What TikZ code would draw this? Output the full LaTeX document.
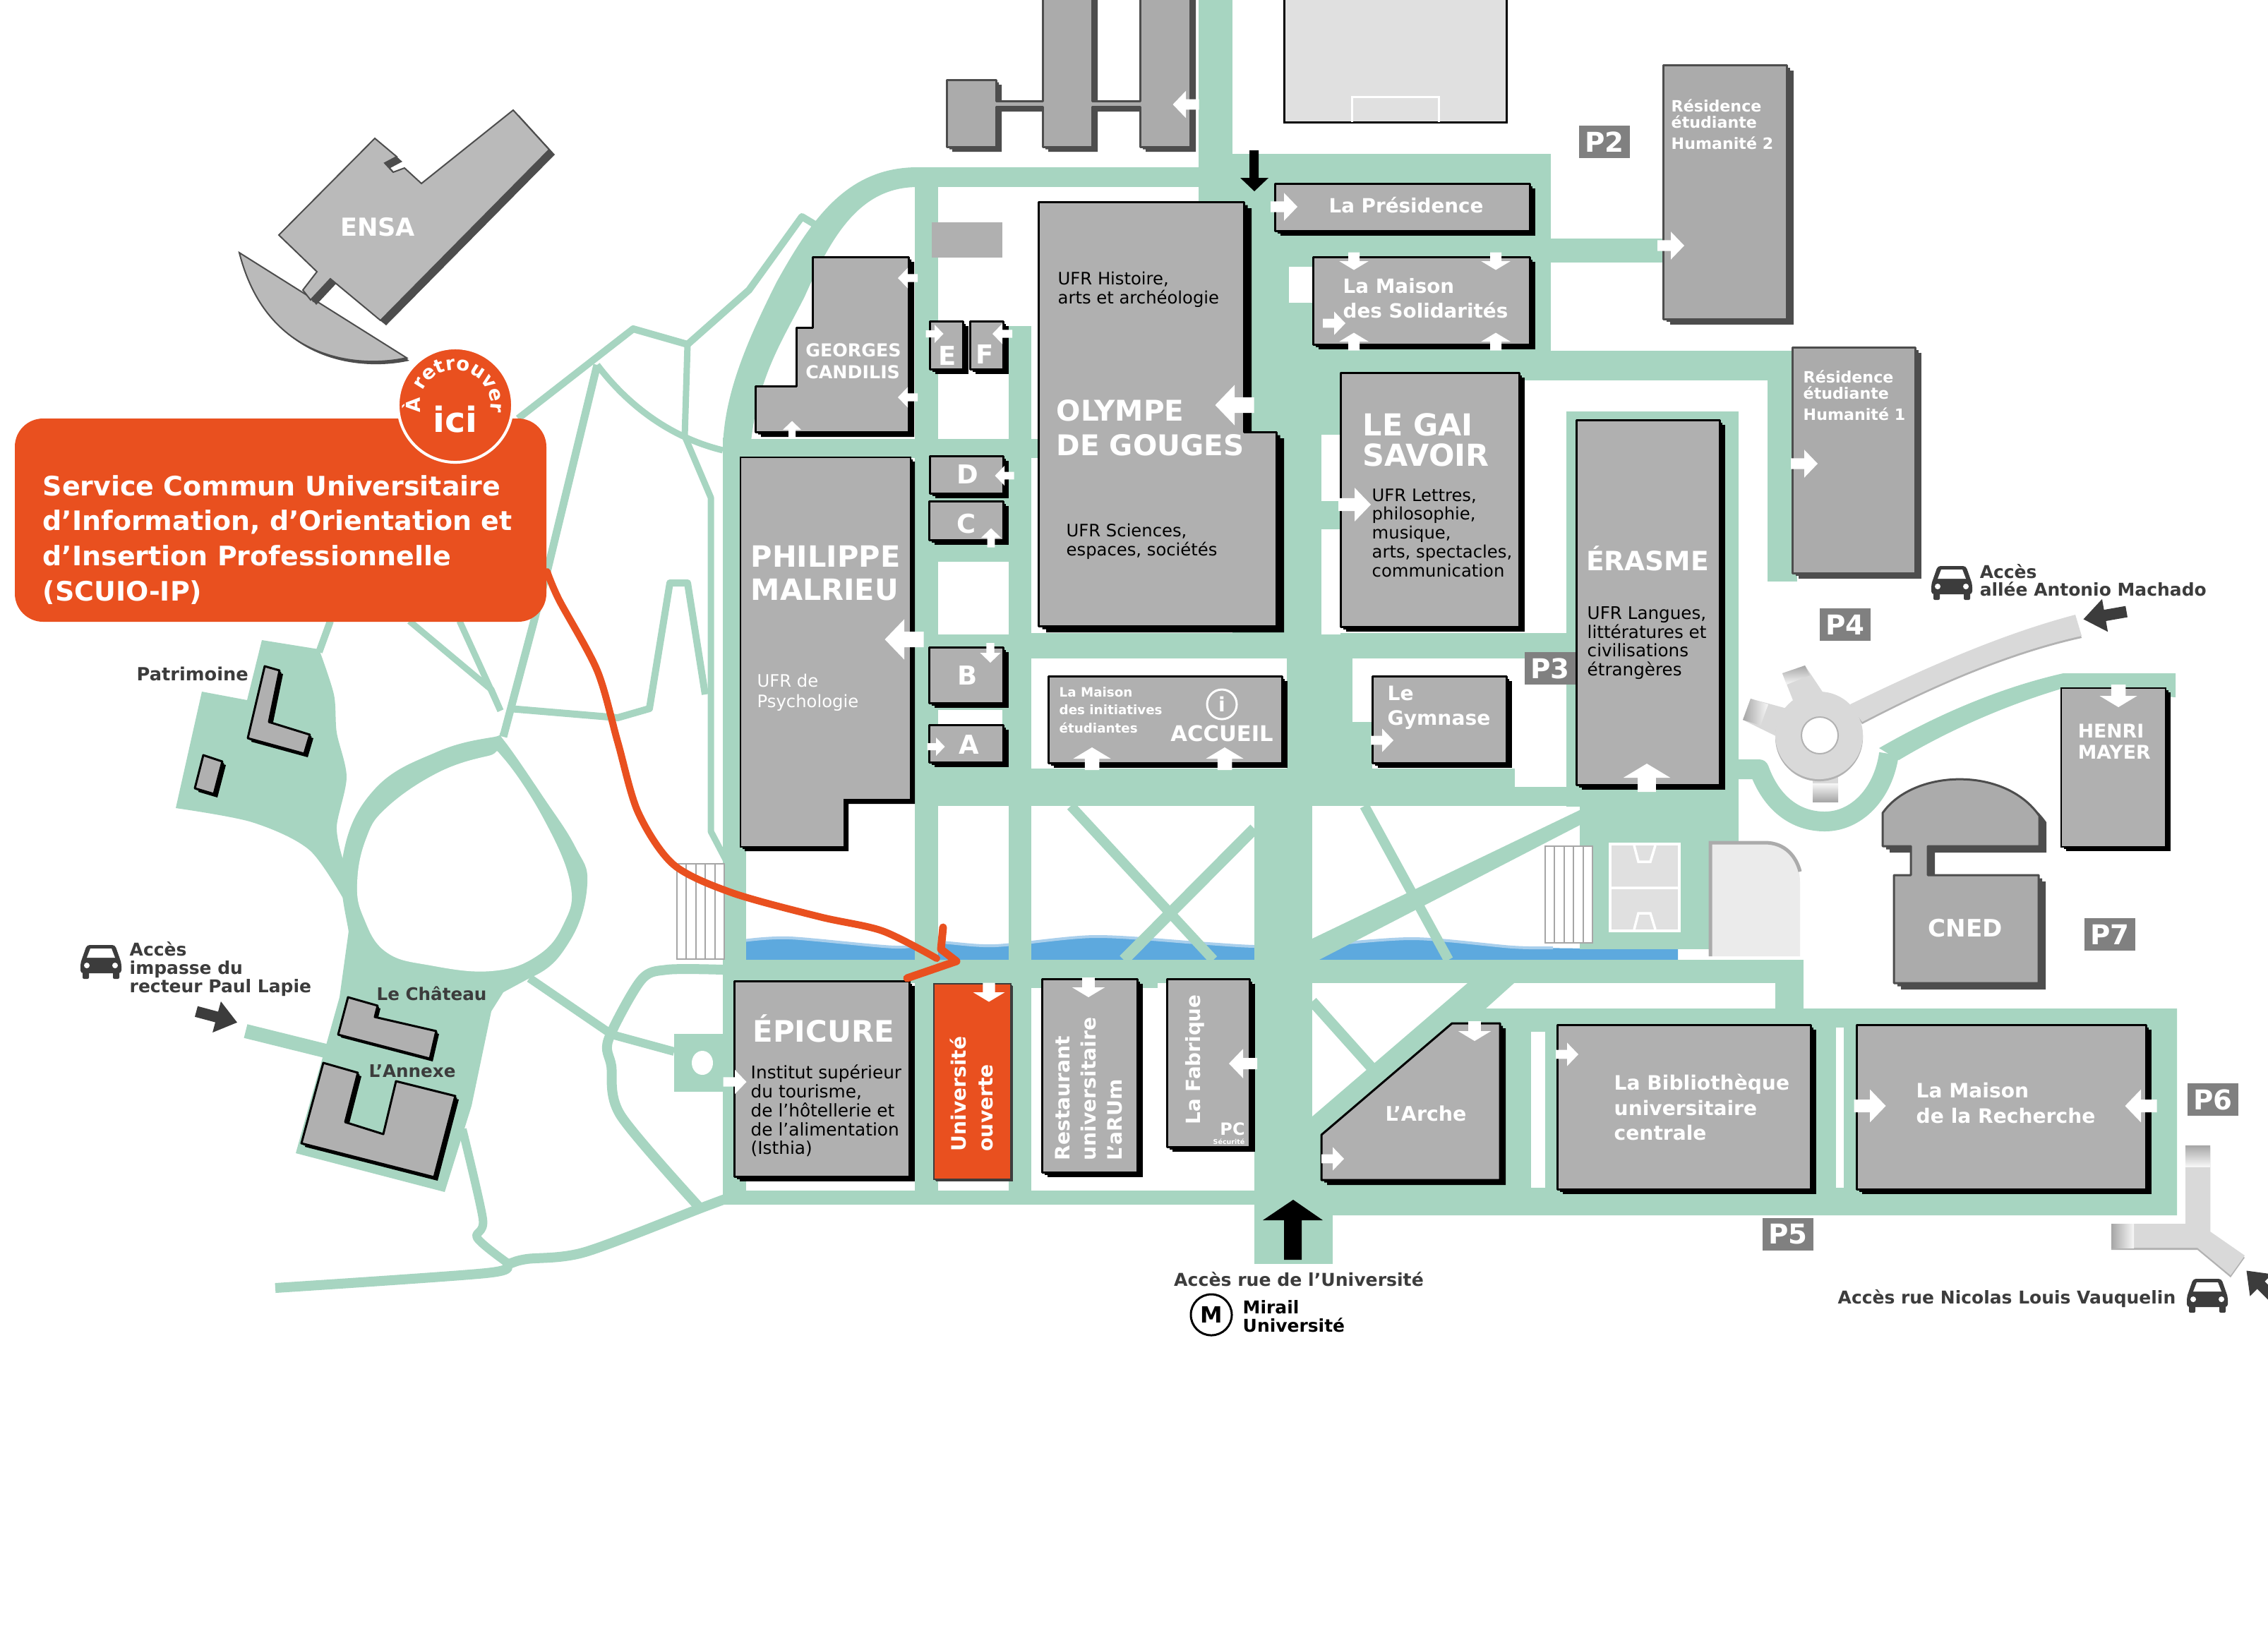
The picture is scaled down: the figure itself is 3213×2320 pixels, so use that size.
\documentclass[tikz,border=0pt]{standalone}
\usepackage{fontspec}
\setmainfont{DejaVu Sans}
\usetikzlibrary{calc,decorations.text}
\definecolor{roadgreen}{HTML}{A7D5C1}
\definecolor{orangered}{HTML}{E9501F}
\definecolor{canalblue}{HTML}{5DA9DE}
\definecolor{canallight}{HTML}{A9CFEC}
\definecolor{inkdark}{HTML}{3C3C3C}
\definecolor{edgedark}{HTML}{4D4D4D}
\definecolor{bldgray}{HTML}{B0B0B0}
\definecolor{resgray}{HTML}{ABABAB}
\definecolor{tarmac}{HTML}{D9D9D9}
\newcommand{\mapsize}[2]{\fontsize{#1}{#2}\selectfont}
% body and shadow of a building
\newcommand{\house}[3][8,7]{%
	\fill[#2 shadow,shift={($.5*(#1)$)}] #3;
	\fill[#2 shadow,shift={(#1)}] #3;
	\filldraw[#2] #3;}
\newcommand{\entrance}{(-.5,-.2) -- (0,-.2) -- (0,-.52) -- (.5,0) -- (0,.52) -- (0,.2) -- (-.5,.2) -- cycle}
\tikzset{%
	bldg/.style        = {fill=bldgray, draw=black, line width=0.03cm, line join=round},
	bldg shadow/.style = {fill=black},
	flat/.style        = {fill=bldgray},
	flat shadow/.style = {fill=black},
	resid/.style       = {fill=resgray, draw=edgedark, line width=0.03cm, line join=round},
	resid shadow/.style= {fill=edgedark},
	unio/.style        = {fill=orangered, draw=inkdark, line width=0.02cm},
	unio shadow/.style = {fill=inkdark},
	ensa/.style        = {fill=black!27, draw=edgedark, line width=0.02cm},
	ensa shadow/.style = {fill=edgedark},
	area/.style   = {fill=roadgreen},
	road/.style   = {draw=roadgreen, line width=#1*0.01cm, line join=round},
	road/.default = 10,
	tarmacarea/.style = {fill=tarmac},
	wlab/.style   = {text=white, align=left, inner sep=0pt},
	klab/.style   = {text=black, align=left, inner sep=0pt},
	dlab/.style   = {text=inkdark, align=left, inner sep=0pt},
	tag/.style    = {fill=black!50, text=white, inner sep=0pt, minimum width=0.72cm, minimum height=0.46cm, font=\mapsize{11}{12}\bfseries},
	car/.pic = {
		\fill[inkdark,rounded corners=0.04cm] (-20,-24) -- (20,-24) -- (27,-4) -- (29,2) -- (29,16) -- (-29,16) -- (-29,2) -- (-27,-4) -- cycle;
		\fill[white] (-15,-19) -- (15,-19) -- (20,-6) -- (-20,-6) -- cycle;
		\fill[white] (-20,5) circle (0.04cm) (20,5) circle (0.04cm);
		\fill[inkdark,rounded corners=0.02cm] (-26,12) rectangle (-17,24) (17,12) rectangle (26,24);
	},
}
\begin{document}
\begin{tikzpicture}[x=0.01cm,y=-0.01cm]
	\useasboundingbox (0,0) rectangle (3213,2320);
	\fill[white] (0,0) rectangle (3213,2320);
	% canal
	\fill[canalblue] plot[smooth] coordinates {(1053,1333)(1119,1329)(1269,1342)(1326,1335)(1409,1340)(1550,1327)(1696,1336)(1777,1341)(1859,1340)(2002,1330)(2143,1342)(2377,1345)} -- (2377,1360) -- (1053,1360) -- cycle;
	\draw[canallight,line width=0.04cm] plot[smooth] coordinates {(1053,1333)(1119,1329)(1269,1342)(1326,1335)(1409,1340)(1550,1327)(1696,1336)(1777,1341)(1859,1340)(2002,1330)(2143,1342)(2200,1343)};
	% roads of the campus
	\foreach \xa/\ya/\xb/\yb in {1698/0/1746/286,1295/237/1746/265,1746/218/2197/497,1746/286/1872/899,1872/539/1899/899,
		2197/338/2355/372,1746/497/2545/539,2504/497/2546/824,2219/583/2463/1143,1024/622/1470/649,
		1024/620/1049/1707,1024/1200/1057/1707,1296/237/1329/1707,1429/462/1461/1707,1296/624/1461/796,
		1296/899/1461/1142,1461/897/2219/933,1823/933/1916/1089,1916/1023/1944/1089,1296/1089/2146/1142,
		2146/1115/2240/1142,2238/1100/2463/1345,1777/1142/1859/1791,1024/1360/2555/1393,1461/1393/1640/1400,
		2515/1393/2555/1430,1024/1687/1777/1707,1777/1707/1888/1791,955/1465/1024/1547}
		\fill[area] (\xa,\ya) rectangle (\xb,\yb);
	\fill[area] (2079,1393) -- (2145,1393) -- (2105,1429) -- (3084,1429) -- (3084,1722) -- (1859,1722) -- (1859,1582) -- cycle;
	\fill[area] (2248,1143) -- (2248,1164) -- (1859,1365) -- (1859,1330) -- cycle;
	\draw[road=14] (1517,1142) -- (1719,1360);
	\draw[road=16] (1777,1174) -- (1592,1360);
	\draw[road=14] (1933,1142) -- (2052,1360);
	\draw[road=15] (1859,1419) -- (1945,1515);
	% curve in the top left
	\fill[area] (1300,237) .. controls (1200,237) and (1150,310) .. (1100,400) .. controls (1060,480) and (1024,560) .. (1024,640) -- (1064,625) .. controls (1075,530) and (1110,480) .. (1140,420) .. controls (1180,330) and (1220,265) .. (1300,265) -- cycle;
	% ring and access of the roundabout
	\draw[road=28] (2463,1090) -- (2492,1090) .. controls (2510,1140) and (2545,1164) .. (2585,1164) .. controls (2630,1164) and (2668,1125) .. (2676,1068);
	\fill[area] (2662,1060) .. controls (2740,1015) and (2830,975) .. (2923,954) -- (3082,954) -- (3082,988) -- (2920,976) .. controls (2840,1000) and (2760,1035) .. (2690,1077) -- cycle;
	% paths in the park
	\draw[road=10] (734,593) -- (897,466) -- (974,488) -- (1061,411) -- (1136,307) -- (1161,322);
	\draw[road=9] (974,488) -- (970,618) -- (1007,705) -- (1007,1178) -- (1028,1218);
	\draw[road=11] (846,517) -- (775,810) -- (713,1044);
	\draw[road=9] (846,517) .. controls (890,575) and (950,620) .. (1024,638);
	\draw[road=9] (580,880) -- (696,977) -- (709,1007);
	\draw[road=9] (651,880) -- (709,1007);
	\draw[road=10] (721,1004) -- (875,1017) -- (920,1004) -- (949,826) -- (974,826) -- (999,984);
	\draw[road=10] (468,880) -- (452,924);
	\draw[road=12] (750,1386) -- (867,1466) -- (955,1490);
	\draw[road=20] (348,1461) -- (465,1490);
	\draw[road=14] plot[smooth] coordinates {(390,1825)(688,1804)(721,1791)(746,1784)(829,1774)(995,1711)(1030,1698)};
	\draw[road=12] plot[smooth] coordinates {(655,1600)(684,1727)(676,1754)(721,1791)};
	\draw[road=14] plot[smooth] coordinates {(1024,1374)(945,1374)(908,1389)(862,1473)(866,1510)(879,1580)(991,1711)};
	\fill[area] (371,907) -- (452,920) -- plot[smooth] coordinates {(452,920)(473,984)(477,1038)(491,1101)(477,1171)(485,1215)} -- (500,1250) -- (493,1285) -- plot[smooth] coordinates {(493,1285)(439,1205)(357,1165)(249,1145)} -- (286,980) -- (350,992) -- cycle;
	\fill[area] plot[smooth cycle,tension=.7] coordinates {(486,1212)(531,1118)(620,1065)(701,1044)(713,1048)(770,1130)(815,1200)(832,1252)(808,1332)(750,1386)(650,1400)(520,1400)(494,1320)};
	\fill[area] (493,1285) -- (494,1319) -- (481,1413) -- (419,1634) -- (630,1689) -- (668,1567) -- (696,1433) -- (713,1406) -- (750,1386) -- (700,1300) -- (540,1250) -- cycle;
	\fill[white] plot[smooth cycle,tension=.7] coordinates {(506,1252)(518,1190)(547,1145)(620,1095)(692,1071)(713,1074)(770,1160)(808,1252)(798,1310)(760,1355)(696,1376)(610,1368)(547,1349)(515,1300)};
	% white gaps
	\foreach \xa/\ya/\xb/\yb in {1826/378/1859/429,1872/616/1899/710,1872/750/1899/899,2169/1462/2189/1683,2601/1456/2612/1683,1329/1006/1420/1027}
		\fill[white] (\xa,\ya) rectangle (\xb,\yb);
	\fill[white] (995,1506) ellipse (15 and 17);
	% stairs
	\foreach \xa/\ya/\xb/\yb in {959/1224/1026/1359,2189/1199/2256/1336}{
		\filldraw[fill=white,draw=black!35,line width=0.025cm] (\xa,\ya) rectangle (\xb,\yb);
		\foreach \k in {1,...,4}
			\draw[black!35,line width=0.02cm] ({\xa+\k*13.4},\ya) -- ({\xa+\k*13.4},\yb);
	}
	% sports ground
	\filldraw[fill=black!12,draw=white,line width=0.035cm] (2281,1196) rectangle (2379,1319);
	\draw[white,line width=0.035cm] (2281,1258) -- (2379,1258) (2315,1198) -- (2321,1221) -- (2338,1221) -- (2345,1198) (2315,1317) -- (2321,1294) -- (2338,1294) -- (2345,1317);
	\fill[black!8] (2421,1194) -- (2500,1194) .. controls (2530,1194) and (2550,1220) .. (2550,1250) -- (2550,1355) -- (2425,1355) -- cycle;
	\draw[black!33,line width=0.05cm] (2423,1355) -- (2423,1194) -- (2500,1194) .. controls (2530,1194) and (2545,1215) .. (2550,1235);
	\filldraw[fill=black!12,draw=black,line width=0.03cm] (1819,-10) rectangle (2134,173);
	\draw[white,line width=0.03cm] (1915,173) -- (1915,137) -- (2038,137) -- (2038,173);
	% access roads
	\foreach \s/\c in {3/black!30,0/tarmac}
		\fill[\c,shift={(0,\s)}] (2621,998) .. controls (2720,950) and (2830,900) .. (2940,871) -- (2949,901) .. controls (2840,925) and (2730,975) .. (2638,1023) -- cycle;
	\fill[tarmacarea] (2525,954) -- (2557,943) -- (2585,985) -- (2545,1005) -- cycle;
	\fill[tarmacarea] (2469,1020) -- (2480,990) -- (2535,1005) -- (2520,1045) -- cycle;
	\fill[tarmacarea] (2568,1090) rectangle (2604,1136);
	\shade[top color=black!35,bottom color=black!3] (2525,954) -- (2557,943) -- (2564,957) -- (2531,970) -- cycle;
	\shade[left color=black!35,right color=black!3] (2469,1020) -- (2480,990) -- (2505,998) -- (2494,1028) -- cycle;
	\shade[bottom color=black!35,top color=black!3] (2568,1110) rectangle (2604,1136);
	\fill[black!30] (2577,1045) circle (0.62cm);
	\fill[tarmac] (2577,1042) circle (0.62cm);
	\filldraw[fill=white,draw=black!30,line width=0.02cm] (2578,1042) circle (0.26cm);
	\foreach \s/\c in {3/black!30,0/tarmac}
		\fill[\c,shift={(0,\s)}] (3096,1623) -- (3131,1623) -- (3131,1745) -- (3180,1779) -- (3160,1807) -- (3113,1768) -- (2991,1768) -- (2991,1734) -- (3096,1734) -- cycle;
	\shade[top color=black!35,bottom color=black!3] (3096,1623) rectangle (3131,1653);
	\shade[left color=black!35,right color=black!3] (2991,1734) rectangle (3023,1768);
	% buildings
	\house[4,4]{ensa}{(339,358) -- (576,507) .. controls (520,520) and (380,520) .. (339,358) -- cycle}
	\house{ensa}{(531,196) -- (562,222) -- (545,231) -- (557,244) -- (573,238) -- (597,260) -- (727,156) -- (778,212) -- (539,454) -- (468,395) -- (440,425) -- (429,411) -- (449,385) -- (395,333) -- cycle}
	\house{resid}{(1341,113) -- (1411,113) -- (1411,143) -- (1477,143) -- (1477,-10) -- (1547,-10) -- (1547,143) -- (1615,143) -- (1615,-10) -- (1686,-10) -- (1686,208) -- (1615,208) -- (1615,151) -- (1547,151) -- (1547,208) -- (1477,208) -- (1477,151) -- (1411,151) -- (1411,208) -- (1341,208) -- cycle}
	\fill[bldgray] (1320,315) rectangle (1420,365);
	\house{bldg}{(1151,364) -- (1287,364) -- (1287,612) -- (1070,612) -- (1070,547) -- (1128,547) -- (1128,464) -- (1151,464) -- cycle}
	\foreach \xa/\ya/\xb/\yb in {1317/455/1364/523,1374/455/1421/523,1317/646/1421/699,1316/710/1421/765,1316/917/1421/996,1316/1027/1421/1080,
		1485/958/1816/1081,1944/958/2134/1081,1806/260/2167/327,1860/364/2167/488,1899/528/2152/888,2233/595/2436/1112}
		{\house{bldg}{(\xa,\ya) rectangle (\xb,\yb)}}
	\house[11,9]{bldg}{(1471,286) -- (1762,286) -- (1762,612) -- (1808,612) -- (1808,887) -- (1471,887) -- cycle}
	\house[6,6]{flat}{(1049,648) -- (1290,648) -- (1290,1133) -- (1196,1133) -- (1196,1200) -- (1049,1200) -- cycle}
	\house{bldg}{(1040,1390) rectangle (1288,1667)}
	\house[3,3]{unio}{(1323,1394) rectangle (1432,1671)}
	\house{bldg}{(1476,1387) rectangle (1611,1661)}
	\house{bldg}{(1653,1387) rectangle (1770,1625)}
	\house{bldg}{(2057,1450) -- (2125,1450) -- (2125,1672) -- (1872,1672) -- (1872,1608) -- cycle}
	\house{bldg}{(2206,1452) rectangle (2565,1685)}
	\house{bldg}{(2630,1452) rectangle (3040,1685)}
	\house[10,9]{resid}{(2667,1152) .. controls (2710,1090) and (2840,1085) .. (2889,1156) -- (2889,1199) -- (2731,1199) -- (2731,1240) -- (2888,1240) -- (2888,1393) -- (2683,1393) -- (2683,1240) -- (2707,1240) -- (2707,1199) -- (2667,1199) -- cycle}
	\house[7,6]{flat}{(2920,975) rectangle (3068,1200)}
	\house[10,8]{resid}{(2356,92) rectangle (2531,452)}
	\house[9,8]{resid}{(2539,492) rectangle (2713,812)}
	\house[5,5]{bldg}{(375,944) -- (396,950) -- (381,1023) -- (439,1041) -- (431,1068) -- (351,1046) -- cycle}
	\house[5,5]{bldg}{(288,1070) -- (315,1079) -- (303,1125) -- (276,1117) -- cycle}
	\house[4,4]{bldg}{(493,1413) -- (535,1425) -- (531,1441) -- (618,1461) -- (609,1500) -- (479,1466) -- cycle}
	\house[5,5]{bldg}{(458,1506) -- (507,1520) -- (489,1590) -- (543,1607) -- (561,1532) -- (645,1553) -- (615,1668) -- (427,1620) -- cycle}
	% entrances: x/y/angle/length
	\foreach \ax/\ay/\aa/\al in {1680/148/180/37,1819/293/0/38,1890/458/0/32,1749/574/180/55,1919/715/0/46,1286/394/180/28,1286/563/180/28,
		1122/609/90/25,1324/473/0/25,1420/473/180/28,1423/674/180/27,1404/762/90/27,1281/906/180/55,1403/925/270/28,1326/1058/0/25,
		1958/1049/0/32,2367/348/0/38,2556/657/0/38,1041/1533/0/33,1761/1507/180/40,1888/1642/0/32,2220/1494/0/32,2649/1567/0/45,3033/1567/180/45}
		\fill[white,shift={(\ax,\ay)},rotate=\aa,scale=\al] \entrance;
	% wider ones
	\foreach \ax/\ay/\aa/\al in {1918/370/270/25,2119/370/270/25,1918/484/90/25,2119/484/90/25,1547/1075/90/32,1735/1075/90/32,
		2333/1102/90/40,3001/986/270/32,1401/1406/270/27,1542/1399/270/28,2089/1461/270/28}
		\fill[white,shift={(\ax,\ay)},rotate=\aa,xscale=\al,yscale=1.6*\al] \entrance;
	\foreach \ax/\ay/\aa/\al in {2982/872/190/62,307/1441/-15/60,3203/1821/135/58}
		\fill[inkdark,shift={(\ax,\ay)},rotate=\aa,scale=\al] (-.5,-.13) -- (0,-.13) -- (0,-.38) -- (.5,0) -- (0,.38) -- (0,.13) -- (-.5,.13) -- cycle;
	\fill[black] (1770,213) -- (1783,213) -- (1783,252) -- (1797,252) -- (1777,271) -- (1757,252) -- (1770,252) -- cycle;
	\fill[black] (1819,1785) -- (1844,1785) -- (1844,1729) -- (1874,1729) -- (1832,1700) -- (1789,1729) -- (1819,1729) -- cycle;
	% parking
	\node[tag] (P2) at (2273,201) {P2};
	\node[tag] (P3) at (2196,947) {P3};
	\node[tag] (P4) at (2614,885) {P4};
	\node[tag] (P5) at (2533,1749) {P5};
	\node[tag] (P6) at (3135,1558) {P6};
	\node[tag] (P7) at (2989,1324) {P7};
	% cars
	\pic at (2765,826) {car};
	\pic at (143,1363) {car};
	\pic at (3127,1836) {car};
	% way to the service
	\draw[orangered,line width=0.1cm,line cap=round] plot[smooth] coordinates {(775,810)(792,850)(846,950)(875,1051)(904,1151)(954,1225)(1037,1265)(1161,1299)(1250,1319)(1327,1358)};
	\draw[orangered,line width=0.11cm,line cap=round,line join=round] (1336,1314) -- (1333,1345) -- (1355,1362) -- (1285,1386);
	% service box
	\fill[orangered,rounded corners=0.4cm] (21,593) rectangle (774,881);
	\node[circle,fill=orangered,draw=white,line width=0.04cm,minimum size=1.62cm,inner sep=0pt] (badge) at (645,574) {};
	\path[decorate,decoration={text along path,text align=center,text={|\mapsize{7.8}{9}\bfseries\color{white}|À retrouver}}] plot[samples=70,domain=215:-35,variable=\t] ({645+50*cos(\t)},{574-50*sin(\t)});
	\node[wlab,font=\mapsize{14}{16}\bfseries] (ici) at (645,594) {ici};
	\node[wlab,anchor=west,font=\mapsize{10.8}{14.2}\bfseries] (scuio) at (60,765) {Service Commun Universitaire\\d’Information, d’Orientation et\\d’Insertion Professionnelle\\(SCUIO-IP)};
	% labels
	\node[wlab,font=\mapsize{10}{11}\bfseries] (ENSAlab) at (535,322) {ENSA};
	\node[wlab,font=\mapsize{7.2}{8.8}\bfseries] (candilis) at (1209,512) {GEORGES\\CANDILIS};
	\foreach \nm/\ax/\ay in {E/1342/504,F/1395/502,D/1371/672,C/1369/742,B/1371/957,A/1373/1055}
		\node[wlab,font=\mapsize{10.5}{12}\bfseries] (wing\nm) at (\ax,\ay) {\nm};
	\node[wlab,anchor=west,font=\mapsize{11.5}{14}\bfseries] (olympe) at (1496,606) {OLYMPE\\DE GOUGES};
	\node[klab,anchor=west,font=\mapsize{6.9}{7.7}] (ufrhist) at (1498,410) {UFR Histoire,\\arts et archéologie};
	\node[klab,anchor=west,font=\mapsize{6.9}{7.7}] (ufrsci) at (1510,767) {UFR Sciences,\\espaces, sociétés};
	\node[wlab,font=\mapsize{7.9}{10}\bfseries] (presid) at (1992,291) {La Présidence};
	\node[wlab,anchor=west,font=\mapsize{7.9}{10}\bfseries] (solid) at (1902,423) {La Maison\\des Solidarités};
	\node[wlab,anchor=west,font=\mapsize{12.2}{12.2}\bfseries] (gai) at (1930,623) {LE GAI\\SAVOIR};
	\node[klab,anchor=west,font=\mapsize{6.9}{7.6}] (ufrlet) at (1943,755) {UFR Lettres,\\philosophie,\\musique,\\arts, spectacles,\\communication};
	\node[wlab,anchor=west,font=\mapsize{11.8}{13.4}\bfseries] (malrieu) at (1063,812) {PHILIPPE\\MALRIEU};
	\node[wlab,anchor=west,font=\mapsize{6.9}{8.2}] (ufrpsy) at (1072,981) {UFR de\\Psychologie};
	\node[wlab,font=\mapsize{10.7}{12}\bfseries] (erasme) at (2334,791) {ÉRASME};
	\node[klab,anchor=west,font=\mapsize{7}{7.6}] (ufrlan) at (2248,911) {UFR Langues,\\littératures et\\civilisations\\étrangères};
	\node[wlab,anchor=west,font=\mapsize{8}{10}\bfseries] (gymnase) at (1965,1003) {Le\\Gymnase};
	\node[wlab,anchor=west,font=\mapsize{5.2}{7.2}\bfseries] (initiat) at (1500,1006) {La Maison\\des initiatives\\étudiantes};
	\node[wlab,font=\mapsize{8.7}{10}\bfseries] (accueil) at (1731,1039) {ACCUEIL};
	\node[circle,draw=white,line width=0.03cm,minimum size=0.42cm,inner sep=0pt,text=white,font=\mapsize{8}{9}\bfseries] (info) at (1731,998) {i};
	\node[wlab,anchor=west,font=\mapsize{11.9}{13}\bfseries] (epicure) at (1066,1457) {ÉPICURE};
	\node[klab,anchor=west,font=\mapsize{7.05}{7.6}] (isthia) at (1063,1574) {Institut supérieur\\du tourisme,\\de l'hôtellerie et\\de l'alimentation\\(Isthia)};
	\node[wlab,rotate=90,anchor=west,font=\mapsize{8}{10.8}\bfseries] (ouverte) at (1376,1632) {Université\\ouverte};
	\node[wlab,rotate=90,anchor=west,font=\mapsize{8}{10.5}\bfseries] (restau) at (1542,1645) {Restaurant\\universitaire\\L’aRUm};
	\node[wlab,rotate=90,anchor=west,font=\mapsize{7.9}{10}\bfseries] (fabrique) at (1693,1594) {La Fabrique};
	\node[wlab,font=\mapsize{6.8}{8}\bfseries] (PC) at (1746,1600) {PC};
	\node[wlab,font=\mapsize{2.7}{3}\bfseries] (secu) at (1741,1618) {Sécurité};
	\node[wlab,font=\mapsize{8.1}{10}\bfseries] (arche) at (2020,1578) {L’Arche};
	\node[wlab,anchor=west,font=\mapsize{8}{10.2}\bfseries] (biblio) at (2286,1569) {La Bibliothèque\\universitaire\\centrale};
	\node[wlab,anchor=west,font=\mapsize{8}{10.2}\bfseries] (recherche) at (2714,1563) {La Maison\\de la Recherche};
	\node[wlab,font=\mapsize{9.7}{11}\bfseries] (cned) at (2784,1315) {CNED};
	\node[wlab,anchor=west,font=\mapsize{7.6}{8.5}\bfseries] (mayer) at (2943,1051) {HENRI\\MAYER};
	\node[wlab,anchor=north west,font=\mapsize{6.3}{6.5}\bfseries] (res2) at (2367,140) {Résidence\\étudiante\\[2pt]Humanité 2};
	\node[wlab,anchor=north west,font=\mapsize{6.3}{6.5}\bfseries] (res1) at (2554,524) {Résidence\\étudiante\\[2pt]Humanité 1};
	\node[dlab,anchor=west,font=\mapsize{7.1}{7.2}\bfseries] (machado) at (2804,822) {Accès\\allée Antonio Machado};
	\node[dlab,anchor=west,font=\mapsize{7.1}{7.4}\bfseries] (lapie) at (183,1373) {Accès\\impasse du\\recteur Paul Lapie};
	\node[dlab,anchor=west,font=\mapsize{7.3}{8}\bfseries] (patri) at (193,955) {Patrimoine};
	\node[dlab,anchor=west,font=\mapsize{7}{8}\bfseries] (chateau) at (533,1408) {Le Château};
	\node[dlab,anchor=west,font=\mapsize{7}{8}\bfseries] (annexe) at (522,1518) {L’Annexe};
	\node[dlab,font=\mapsize{7.15}{8}\bfseries] (accesuni) at (1840,1813) {Accès rue de l’Université};
	\node[dlab,anchor=west,font=\mapsize{7.1}{8}\bfseries] (vauq) at (2603,1840) {Accès rue Nicolas Louis Vauquelin};
	\node[circle,draw=black,line width=0.03cm,minimum size=0.58cm,inner sep=0pt,font=\mapsize{9}{10}\bfseries] (metro) at (1716,1863) {M};
	\node[klab,anchor=west,font=\mapsize{7.1}{7.4}\bfseries] (mirail) at (1760,1865) {Mirail\\Université};
\end{tikzpicture}
\end{document}
